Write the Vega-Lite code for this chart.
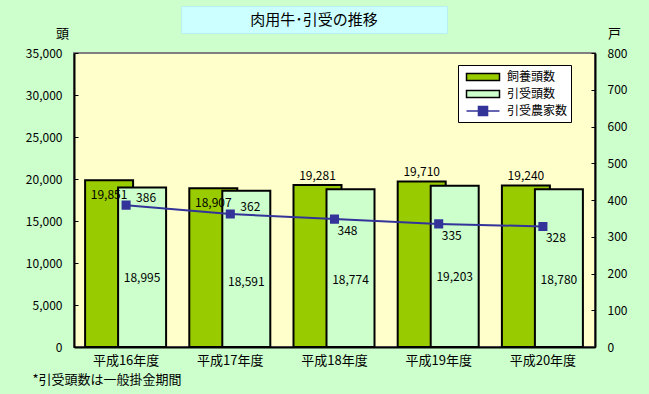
{
  "$schema": "https://vega.github.io/schema/vega-lite/v6.json",
  "background": "#CCFFCC",
  "padding": {"left": 24, "top": 5, "right": 21, "bottom": 8},
  "config": {
    "font": "Noto Sans CJK JP",
    "text": {"font": "Noto Sans CJK JP", "fontSize": 12, "color": "black"},
    "axis": {"labelFont": "Noto Sans CJK JP", "titleFont": "Noto Sans CJK JP", "labelColor": "black", "titleColor": "black", "domainColor": "black", "tickColor": "black", "grid": false, "labelFontSize": 12, "titleFontWeight": "normal", "titleFontSize": 13},
    "legend": {"labelFont": "Noto Sans CJK JP"}
  },
  "datasets": {
    "main": [
      {"year": "平成16年度", "feed": 19851, "ins": 18995, "farms": 386},
      {"year": "平成17年度", "feed": 18907, "ins": 18591, "farms": 362},
      {"year": "平成18年度", "feed": 19281, "ins": 18774, "farms": 348},
      {"year": "平成19年度", "feed": 19710, "ins": 19203, "farms": 335},
      {"year": "平成20年度", "feed": 19240, "ins": 18780, "farms": 328}
    ]
  },
  "spacing": -8,
  "vconcat": [
    {
      "spacing": 0,
      "hconcat": [
        {
          "width": 106, "height": 27,
          "view": {"stroke": null, "fill": null},
          "data": {"values": [{}]},
          "mark": {"type": "text", "text": ""}
        },
        {
          "width": 266, "height": 27,
          "view": {"stroke": "#B8F0F0", "fill": "#CCFFFF"},
          "data": {"values": [{}]},
          "mark": {"type": "text", "text": "肉用牛･引受の推移", "fontSize": 15, "font": "Noto Sans CJK JP", "color": "black", "baseline": "middle"}
        }
      ]
    },
    {
      "width": 521,
      "height": 294,
      "view": {"fill": "#FFFFCC", "stroke": "#808080", "strokeWidth": 2},
      "data": {"name": "main"},
      "resolve": {"scale": {"y": "independent"}},
      "layer": [
        {
          "encoding": {
            "x": {"field": "year", "type": "nominal", "sort": null, "scale": {"paddingInner": 0, "paddingOuter": 0},
              "axis": {"title": "*引受頭数は一般掛金期間", "titleX": -42, "titleY": 32, "titleAlign": "left", "titleAnchor": "start", "titleBaseline": "middle", "titleFontSize": 13, "labelAngle": 0, "ticks": false, "labelPadding": 7, "labelFontSize": 13, "domainWidth": 2}}
          },
          "layer": [
            {
              "mark": {"type": "bar", "width": 48, "xOffset": -17, "strokeWidth": 2},
              "encoding": {
                "y": {"field": "feed", "type": "quantitative", "scale": {"domain": [0, 35000]},
                  "axis": {"title": "頭", "titleAngle": 0, "titleX": -12, "titleY": -20, "titleAlign": "center", "titleBaseline": "middle", "values": [0, 5000, 10000, 15000, 20000, 25000, 30000, 35000], "format": ",d", "tickSize": -4, "labelPadding": 16, "domainWidth": 2}},
                "fill": {"datum": "飼養頭数", "type": "nominal",
                  "scale": {"domain": ["飼養頭数", "引受頭数", "引受農家数"], "range": ["#99CC00", "#CCFFCC", "#333399"]},
                  "legend": {
                    "title": null, "orient": "none", "legendX": 384, "legendY": 59,
                    "fillColor": "white", "strokeColor": "black", "padding": 3,
                    "labelFontSize": 12, "labelColor": "black", "symbolSize": 272, "rowPadding": 1,
                    "symbolOffset": 13, "labelOffset": 15, "labelExpr": "datum.label + '　'"
                  }},
                "stroke": {"datum": "飼養頭数", "type": "nominal",
                  "scale": {"domain": ["飼養頭数", "引受頭数", "引受農家数"], "range": ["black", "black", "#333399"]}}
              }
            },
            {
              "mark": {"type": "bar", "width": 48, "xOffset": 16, "strokeWidth": 2},
              "encoding": {
                "y": {"field": "ins", "type": "quantitative",
                  "axis": {"title": "頭", "titleAngle": 0, "titleX": -12, "titleY": -20, "titleAlign": "center", "titleBaseline": "middle", "values": [0, 5000, 10000, 15000, 20000, 25000, 30000, 35000], "format": ",d", "tickSize": -4, "labelPadding": 16, "domainWidth": 2}},
                "fill": {"datum": "引受頭数", "type": "nominal"},
                "stroke": {"datum": "引受頭数", "type": "nominal"}
              }
            },
            {
              "transform": [{"filter": "datum.farms > 360"}],
              "mark": {"type": "text", "xOffset": -17, "dy": 15, "baseline": "middle"},
              "encoding": {
                "y": {"field": "feed", "type": "quantitative",
                  "axis": {"title": "頭", "titleAngle": 0, "titleX": -12, "titleY": -20, "titleAlign": "center", "titleBaseline": "middle", "values": [0, 5000, 10000, 15000, 20000, 25000, 30000, 35000], "format": ",d", "tickSize": -4, "labelPadding": 16, "domainWidth": 2}},
                "text": {"field": "feed", "type": "quantitative", "format": ","}
              }
            },
            {
              "transform": [{"filter": "datum.farms < 360"}],
              "mark": {"type": "text", "xOffset": -17, "dy": -9, "baseline": "middle"},
              "encoding": {
                "y": {"field": "feed", "type": "quantitative",
                  "axis": {"title": "頭", "titleAngle": 0, "titleX": -12, "titleY": -20, "titleAlign": "center", "titleBaseline": "middle", "values": [0, 5000, 10000, 15000, 20000, 25000, 30000, 35000], "format": ",d", "tickSize": -4, "labelPadding": 16, "domainWidth": 2}},
                "text": {"field": "feed", "type": "quantitative", "format": ","}
              }
            },
            {
              "mark": {"type": "text", "xOffset": 16, "dy": 91, "baseline": "middle"},
              "encoding": {
                "y": {"field": "ins", "type": "quantitative",
                  "axis": {"title": "頭", "titleAngle": 0, "titleX": -12, "titleY": -20, "titleAlign": "center", "titleBaseline": "middle", "values": [0, 5000, 10000, 15000, 20000, 25000, 30000, 35000], "format": ",d", "tickSize": -4, "labelPadding": 16, "domainWidth": 2}},
                "text": {"field": "ins", "type": "quantitative", "format": ","}
              }
            }
          ]
        },
        {
          "encoding": {
            "x": {"field": "year", "type": "nominal", "sort": null},
            "y": {"field": "farms", "type": "quantitative", "scale": {"domain": [0, 800]},
              "axis": {"orient": "right", "title": "戸", "titleAngle": 0, "titleX": 19, "titleY": -20, "titleAlign": "center", "titleBaseline": "middle", "values": [0, 100, 200, 300, 400, 500, 600, 700, 800], "tickSize": -4, "labelPadding": 16, "domainWidth": 2}}
          },
          "layer": [
            {
              "mark": {"type": "line", "strokeWidth": 2},
              "encoding": {
                "stroke": {"datum": "引受農家数", "type": "nominal"}
              }
            },
            {
              "mark": {"type": "point", "filled": true, "size": 272, "opacity": 1},
              "encoding": {
                "fill": {"datum": "引受農家数", "type": "nominal"},
                "shape": {"datum": "引受農家数", "type": "nominal",
                  "scale": {"domain": ["飼養頭数", "引受頭数", "引受農家数"], "range": ["M-2,-0.42H2V0.42H-2Z", "M-2,-0.42H2V0.42H-2Z", "M-2,0H2M-0.55,-0.55H0.55V0.55H-0.55Z"]}}
              }
            },
            {
              "transform": [{"filter": "datum.farms > 360"}],
              "mark": {"type": "text", "dx": 20, "dy": -7, "baseline": "middle"},
              "encoding": {
                "text": {"field": "farms", "type": "quantitative"}
              }
            },
            {
              "transform": [{"filter": "datum.farms < 360"}],
              "mark": {"type": "text", "dx": 13, "dy": 12, "baseline": "middle"},
              "encoding": {
                "text": {"field": "farms", "type": "quantitative"}
              }
            }
          ]
        }
      ]
    }
  ]
}
